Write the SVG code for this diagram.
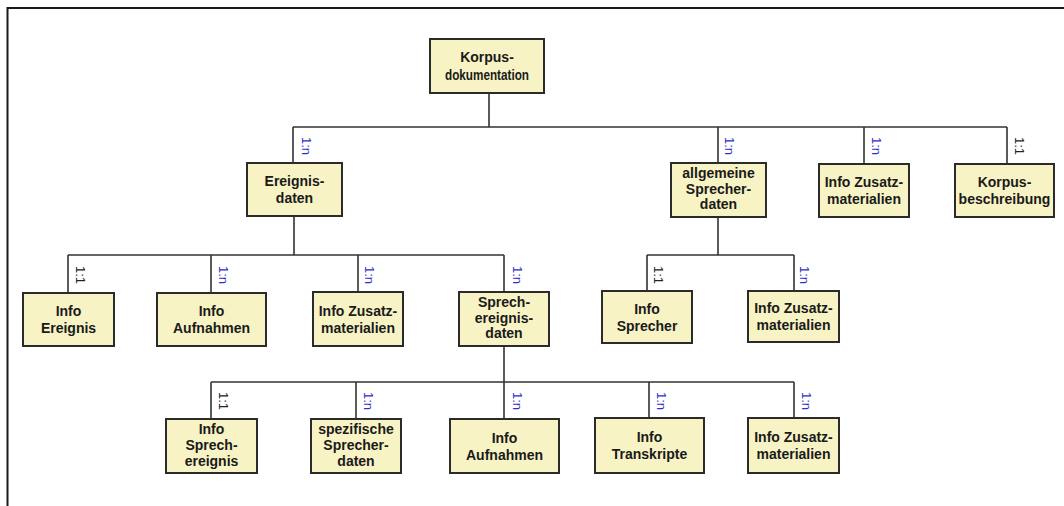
<svg xmlns="http://www.w3.org/2000/svg" width="1064" height="506" viewBox="0 0 1064 506">
<style>
.box{fill:#F7F3C4;stroke:#2b2b2b;stroke-width:2}
.t{font-family:"Liberation Sans",Arial,sans-serif;font-weight:bold;font-size:14px;fill:#1a1a1a;text-anchor:middle}
.c{fill:none;stroke:#333;stroke-width:1.6}
.n{font-family:"Liberation Sans",Arial,sans-serif;font-size:13px;fill:#2f2fc4}
.o{font-family:"Liberation Sans",Arial,sans-serif;font-size:13px;fill:#222}
</style>
<rect width="1064" height="506" fill="#fff"/>
<path d="M7.5 506 V8 H1064" fill="none" stroke="#1a1a1a" stroke-width="2"/>
<g id="connectors">
<path class="c" d="M489 93 V127 M293 127 H1007 M293 127 V163 M718 127 V163 M864 127 V164 M1007 127 V164"/>
<path class="c" d="M294 216 V255 M68 255 H504 M68 255 V293 M211 255 V293 M358 255 V292 M504 255 V292"/>
<path class="c" d="M718 217 V255 M647 255 H794 M647 255 V291 M794 255 V291"/>
<path class="c" d="M504 346 V419 M211 382 H794 M211 382 V419 M356 382 V419 M649 382 V418 M794 382 V418"/>
<text class="n" transform="translate(301.5,137) rotate(90)">1:n</text>
<text class="n" transform="translate(724.5,137) rotate(90)">1:n</text>
<text class="n" transform="translate(871.5,137) rotate(90)">1:n</text>
<text class="o" transform="translate(1014.5,137) rotate(90)">1:1</text>
<text class="o" transform="translate(75.5,266) rotate(90)">1:1</text>
<text class="n" transform="translate(218.5,266) rotate(90)">1:n</text>
<text class="n" transform="translate(364.5,266) rotate(90)">1:n</text>
<text class="n" transform="translate(512.5,266) rotate(90)">1:n</text>
<text class="o" transform="translate(653.5,266) rotate(90)">1:1</text>
<text class="n" transform="translate(799.5,266) rotate(90)">1:n</text>
<text class="o" transform="translate(218.5,392) rotate(90)">1:1</text>
<text class="n" transform="translate(363.5,392) rotate(90)">1:n</text>
<text class="n" transform="translate(512.5,392) rotate(90)">1:n</text>
<text class="n" transform="translate(656.5,392) rotate(90)">1:n</text>
<text class="n" transform="translate(801.5,392) rotate(90)">1:n</text>
</g>
<g id="korpusdokumentation"><rect class="box" x="430" y="39" width="114" height="54"/><text class="t" x="487" y="62">Korpus-</text><text class="t" x="487" y="80" textLength="84" lengthAdjust="spacingAndGlyphs">dokumentation</text></g>
<g id="ereignisdaten"><rect class="box" x="247" y="163" width="95" height="53"/><text class="t" x="294.5" y="186">Ereignis-</text><text class="t" x="294.5" y="203">daten</text></g>
<g id="allg-sprecherdaten"><rect class="box" x="671" y="163" width="95" height="54"/><text class="t" x="718.5" y="178">allgemeine</text><text class="t" x="718.5" y="193.5">Sprecher-</text><text class="t" x="718.5" y="209">daten</text></g>
<g id="info-zusatz-1"><rect class="box" x="819" y="164" width="90" height="53"/><text class="t" x="864" y="187">Info Zusatz-</text><text class="t" x="864" y="204">materialien</text></g>
<g id="korpusbeschreibung"><rect class="box" x="955" y="164" width="99" height="53"/><text class="t" x="1004.5" y="187">Korpus-</text><text class="t" x="1004.5" y="204">beschreibung</text></g>
<g id="info-ereignis"><rect class="box" x="23" y="293" width="91" height="53"/><text class="t" x="68.5" y="316">Info</text><text class="t" x="68.5" y="333">Ereignis</text></g>
<g id="info-aufnahmen-1"><rect class="box" x="157" y="293" width="109" height="53"/><text class="t" x="211.5" y="316">Info</text><text class="t" x="211.5" y="333">Aufnahmen</text></g>
<g id="info-zusatz-2"><rect class="box" x="313" y="292" width="90" height="54"/><text class="t" x="358" y="315.5">Info Zusatz-</text><text class="t" x="358" y="332.5">materialien</text></g>
<g id="sprechereignisdaten"><rect class="box" x="459" y="292" width="90" height="54"/><text class="t" x="504" y="307">Sprech-</text><text class="t" x="504" y="322.5">ereignis-</text><text class="t" x="504" y="338">daten</text></g>
<g id="info-sprecher"><rect class="box" x="602" y="291" width="90" height="52"/><text class="t" x="647" y="313.5">Info</text><text class="t" x="647" y="330.5">Sprecher</text></g>
<g id="info-zusatz-3"><rect class="box" x="748" y="291" width="91" height="51"/><text class="t" x="793.5" y="313">Info Zusatz-</text><text class="t" x="793.5" y="330">materialien</text></g>
<g id="info-sprechereignis"><rect class="box" x="166" y="419" width="91" height="54"/><text class="t" x="211.5" y="434">Info</text><text class="t" x="211.5" y="450">Sprech-</text><text class="t" x="211.5" y="466">ereignis</text></g>
<g id="spez-sprecherdaten"><rect class="box" x="311" y="419" width="90" height="54"/><text class="t" x="356" y="434">spezifische</text><text class="t" x="356" y="450">Sprecher-</text><text class="t" x="356" y="466">daten</text></g>
<g id="info-aufnahmen-2"><rect class="box" x="450" y="419" width="109" height="54"/><text class="t" x="504.5" y="442.5">Info</text><text class="t" x="504.5" y="459.5">Aufnahmen</text></g>
<g id="info-transkripte"><rect class="box" x="595" y="418" width="109" height="55"/><text class="t" x="649.5" y="442">Info</text><text class="t" x="649.5" y="459">Transkripte</text></g>
<g id="info-zusatz-4"><rect class="box" x="748" y="418" width="91" height="55"/><text class="t" x="793.5" y="442">Info Zusatz-</text><text class="t" x="793.5" y="459">materialien</text></g>
</svg>
